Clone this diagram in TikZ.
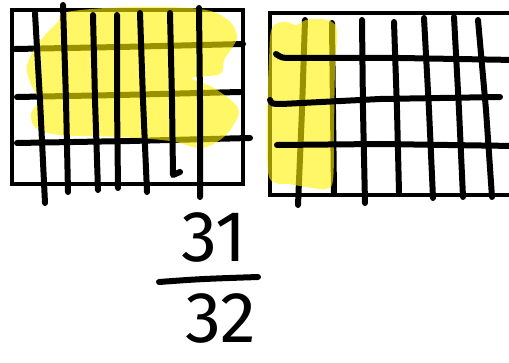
\documentclass[tikz,border=0pt]{standalone}
\usepackage{fontspec}
\setmainfont{Fira Sans}
\tikzset{
  ink/.style={line width=6pt, line cap=round, line join=round, draw=black},
  frame/.style={line width=4.5pt, draw=black},
  hl/.style={fill=yellow, fill opacity=0.6, draw=none},
  digits/.style={font=\fontsize{72}{72}\selectfont, inner sep=0pt, text=black}
}
\begin{document}
\begin{tikzpicture}[x=1pt,y=-1pt]
\useasboundingbox (0,0) rectangle (509,363);
\fill[white] (0,0) rectangle (509,363);
\begin{scope}
\clip (0,0) rectangle (509,363);
% ---------- left grid ----------
\draw[frame] (12,10) rectangle (243,184);
\draw[ink] (15,49) -- (120,47) -- (243,44);
\draw[ink] (17,97) -- (120,95) -- (240,92);
\draw[ink] (17,143) -- (130,141) -- (250,138);
\fill[hl] plot[smooth cycle, tension=0.6] coordinates {
  (67,12) (130,7) (200,9) (228,20) (237,36) (232,48) (224,60) (220,74)
  (192,78) (214,88) (238,108) (233,126) (220,140) (200,148) (170,141)
  (120,137) (60,135) (36,128) (31,114) (38,100) (30,82) (27,66) (35,48)
  (46,34) (58,22)};
\draw[ink] (35,13) -- (40,100) -- (45,203);
\draw[ink] (63,5) -- (66,100) -- (68,192);
\draw[ink] (93,15) -- (95,100) -- (98,190);
\draw[ink] (117,15) -- (117,100) -- (118,188);
\draw[ink] (140,13) -- (143,100) -- (147,192);
\draw[ink] (170,13) -- (172,100) -- (173,175) -- (180,172);
\draw[ink] (199,8) -- (200,100) -- (200,197);
% ---------- right grid ----------
\draw[frame] (270,13) rectangle (520,195);
\draw[ink] (305,20) -- (302,110) -- (298,205);
\draw[ink] (332,23) -- (333,110) -- (334,193);
\draw[ink] (362,20) -- (363,110) -- (365,203);
\draw[ink] (394,22) -- (397,110) -- (399,192);
\draw[ink] (424,18) -- (429,110) -- (433,198);
\draw[ink] (454,17) -- (459,110) -- (463,197);
\draw[ink] (478,20) -- (486,110) -- (492,197);
\fill[hl] plot[smooth cycle, tension=0.6] coordinates {
  (272,28) (285,22) (296,25) (306,20) (320,19) (332,22) (337,32)
  (335,70) (334,130) (333,180) (326,189) (313,188) (300,186)
  (289,184) (276,183) (268,172) (267,120) (269,60)};
\draw[ink] (276,54) .. controls (282,58) .. (292,58) -- (400,58) -- (515,60);
\draw[ink] (270,100) .. controls (272,104) .. (282,104) -- (380,99) -- (500,97);
\draw[ink] (277,145) -- (380,144) -- (515,146);
\end{scope}
% ---------- fraction ----------
\node[digits] (num) at (214,237) {31};
\node[digits] (den) at (221,318) {32};
\coordinate (barL) at (159,282);
\coordinate (barR) at (258,277);
\draw[ink] (barL) .. controls (200,279) .. (barR);
\end{tikzpicture}
\end{document}
